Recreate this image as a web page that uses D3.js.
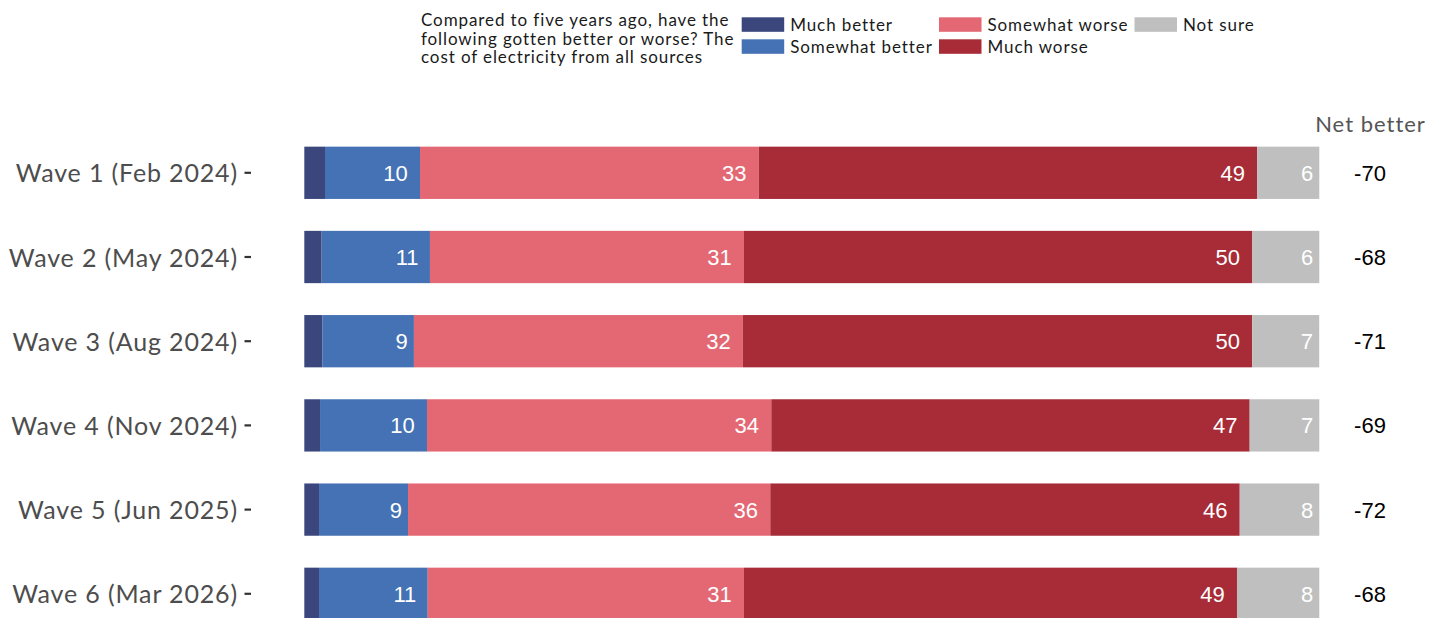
<!DOCTYPE html>
<html>
<head>
<meta charset="utf-8">
<script src="https://cdn.jsdelivr.net/npm/d3@7"></script>
<style>
  html, body { margin: 0; padding: 0; background: #ffffff; }
  svg { display: block; }
</style>
</head>
<body>
<svg id="chart" width="1431" height="618"></svg>
<script>
// ---- data ----
const waves = ["Wave 1 (Feb 2024)", "Wave 2 (May 2024)", "Wave 3 (Aug 2024)",
               "Wave 4 (Nov 2024)", "Wave 5 (Jun 2025)", "Wave 6 (Mar 2026)"];
const muchBetter     = [2.04, 1.71, 1.77, 1.55, 1.45, 1.45];
const somewhatBetter = [9.36, 10.67, 9.03, 10.54, 8.77, 10.71];
const somewhatWorse  = [33.37, 30.94, 32.41, 33.92, 35.69, 31.16];
const muchWorse      = [49.12, 50.08, 50.18, 47.13, 46.25, 48.57];
const notSure        = [6.11, 6.60, 6.60, 6.86, 7.84, 8.11];
// printed labels
const labelSomewhatBetter = [10, 11, 9, 10, 9, 11];
const labelSomewhatWorse  = [33, 31, 32, 34, 36, 31];
const labelMuchWorse      = [49, 50, 50, 47, 46, 49];
const labelNotSure        = [6, 6, 7, 7, 8, 8];
const netBetter           = [-70, -68, -71, -69, -72, -68];
const seriesNames = ["Much better", "Somewhat better", "Somewhat worse", "Much worse", "Not sure"];
const seriesColors = ["#3a467c", "#4572b4", "#e46873", "#a72c37", "#bfbfbf"];
const legendTitle = ["Compared to five years ago, have the",
                     "following gotten better or worse? The",
                     "cost of electricity from all sources"];
const netHeader = "Net better";

const SANS = "Lato, 'Open Sans', sans-serif";
const ARIAL = "'Liberation Sans', Arial, sans-serif";

const svg = d3.select("#chart");

const rows = waves.map((w, i) => ({
  wave: w,
  "Much better": muchBetter[i],
  "Somewhat better": somewhatBetter[i],
  "Somewhat worse": somewhatWorse[i],
  "Much worse": muchWorse[i],
  "Not sure": notSure[i]
}));
const labelsBySeries = {
  "Somewhat better": labelSomewhatBetter,
  "Somewhat worse": labelSomewhatWorse,
  "Much worse": labelMuchWorse,
  "Not sure": labelNotSure
};

const x = d3.scaleLinear().domain([0, 100]).range([304.3, 1319.3]);
const y = d3.scaleBand().domain(waves).range([130.7, 635.9]).paddingInner(0.379).paddingOuter(0.1895);
const color = d3.scaleOrdinal().domain(seriesNames).range(seriesColors);

const stacked = d3.stack().keys(seriesNames)(rows);

// bars
const layers = svg.append("g").selectAll("g").data(stacked).join("g")
  .attr("fill", d => color(d.key));
layers.selectAll("rect").data(d => d.map(s => ({s, key: d.key}))).join("rect")
  .attr("x", d => x(d.s[0]))
  .attr("width", d => x(d.s[1]) - x(d.s[0]))
  .attr("y", d => y(d.s.data.wave))
  .attr("height", y.bandwidth());

// in-bar labels (right aligned, hjust ~1.5)
const lab = svg.append("g");
stacked.forEach(layer => {
  const labs = labelsBySeries[layer.key];
  if (!labs) return;
  layer.forEach((s, i) => {
    const t = lab.append("text")
      .attr("font-family", ARIAL)
      .attr("font-size", 22)
      .attr("fill", "#ffffff")
      .attr("text-anchor", "end")
      .attr("y", y(s.data.wave) + y.bandwidth() / 2)
      .attr("dy", "0.36em")
      .text(labs[i]);
    const w = t.node().getComputedTextLength();
    t.attr("x", x(s[1]) - 0.5 * w);
  });
});

// y axis
const yAxis = svg.append("g")
  .attr("transform", "translate(251,0)")
  .call(d3.axisLeft(y).tickSize(6.5).tickPadding(6.5));
yAxis.select(".domain").remove();
yAxis.selectAll(".tick line").attr("stroke", "#333333").attr("stroke-width", 2.2);
yAxis.selectAll(".tick text")
  .attr("font-family", SANS)
  .attr("font-size", 25)
  .attr("letter-spacing", "0.85px")
  .attr("fill", "#4d4d4d")
  .attr("dy", "0.38em");

// net better column
svg.append("text")
  .attr("x", 1370.5).attr("y", 132)
  .attr("text-anchor", "middle")
  .attr("font-family", SANS).attr("font-size", 22)
  .attr("letter-spacing", "1px")
  .attr("fill", "#555555")
  .text(netHeader);
svg.append("g").selectAll("text").data(waves).join("text")
  .attr("x", 1370)
  .attr("y", d => y(d) + y.bandwidth() / 2)
  .attr("dy", "0.36em")
  .attr("text-anchor", "middle")
  .attr("font-family", ARIAL).attr("font-size", 22)
  .attr("fill", "#000000")
  .text((d, i) => netBetter[i]);

// legend title
const lt = svg.append("g");
legendTitle.forEach((line, i) => {
  lt.append("text")
    .attr("x", 421).attr("y", 26 + i * 18.5)
    .attr("font-family", SANS).attr("font-size", 17)
    .attr("letter-spacing", "0.9px")
    .attr("fill", "#1a1a1a")
    .text(line);
});

// legend keys
const legendPos = [
  {kx: 741.7, ky: 17.3},
  {kx: 741.7, ky: 39.3},
  {kx: 939, ky: 17.3},
  {kx: 939, ky: 39.3},
  {kx: 1134.5, ky: 17.3}
];
const leg = svg.append("g").selectAll("g").data(seriesNames).join("g")
  .attr("transform", (d, i) => `translate(${legendPos[i].kx},${legendPos[i].ky})`);
leg.append("rect").attr("width", 42.5).attr("height", 14.5).attr("fill", d => color(d));
leg.append("text")
  .attr("x", 48.5).attr("y", 13.7)
  .attr("font-family", SANS).attr("font-size", 17)
  .attr("letter-spacing", "0.9px")
  .attr("fill", "#1a1a1a")
  .text(d => d);
</script>
</body>
</html>
